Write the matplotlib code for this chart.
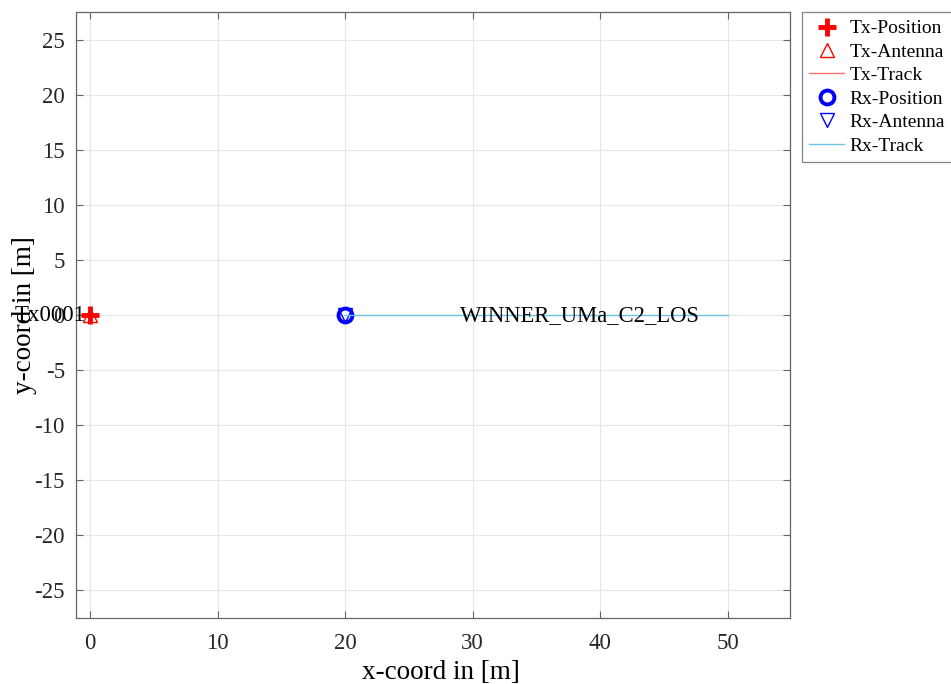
import matplotlib
matplotlib.use('Agg')
import matplotlib.pyplot as plt

plt.rcParams['font.family'] = ['Liberation Serif', 'DejaVu Serif']
plt.rcParams['axes.unicode_minus'] = False

# layout data
tx_pos = [0.0, 0.0]
rx_pos = [20.0, 0.0]
rx_track_x = [20.0, 50.0]
rx_track_y = [0.0, 0.0]
tx_name = 'Tx0001'
segment_name = 'WINNER_UMa_C2_LOS'
segment_label_pos = [29.0, 0.0]

xticks = [0, 10, 20, 30, 40, 50]
yticks = [-25, -20, -15, -10, -5, 0, 5, 10, 15, 20, 25]

fig = plt.figure(figsize=(9.51, 6.84), dpi=100)
ax = fig.add_axes([0.080, 0.0965, 0.751, 0.8855])

ax.plot(tx_pos[0], tx_pos[1], '+', color='red', markersize=13, markeredgewidth=3.5, label='Tx-Position')
ax.plot(tx_pos[0], tx_pos[1], '^', color='red', markerfacecolor='none', markersize=10, label='Tx-Antenna')
ax.plot([tx_pos[0]], [tx_pos[1]], '-', color='#ff7070', linewidth=1.0, label='Tx-Track')
ax.plot(rx_pos[0], rx_pos[1], 'o', color='blue', markerfacecolor='none', markersize=10, markeredgewidth=2.8, label='Rx-Position')
ax.plot(rx_pos[0], rx_pos[1], 'v', color='blue', markerfacecolor='none', markersize=10, label='Rx-Antenna')
ax.plot(rx_track_x, rx_track_y, '-', color='#6cc3e6', linewidth=1.0, label='Rx-Track')

ax.text(tx_pos[0] - 0.4, tx_pos[1], tx_name, fontsize=16.5, ha='right', va='center')
ax.text(segment_label_pos[0], segment_label_pos[1], segment_name, fontsize=16.3, ha='left', va='center')

ax.set_xlim(-1.1, 54.9)
ax.set_ylim(-27.5, 27.5)
ax.set_xticks(xticks)
ax.set_yticks(yticks)
ax.grid(True, color='#e6e6e6', linewidth=0.8)
ax.tick_params(direction='in', labelsize=16.5, colors='#666666', labelcolor='#262626',
               length=5, top=True, right=True, pad=8)
ax.tick_params(axis='x', pad=11)
for s in ax.spines.values():
    s.set_color('#666666')
    s.set_linewidth(0.9)
ax.set_xlabel('x-coord in [m]', fontsize=19.5)
ax.xaxis.set_label_coords(0.511, -0.069)
ax.set_ylabel('y-coord in [m]', fontsize=19.5, labelpad=-2)

leg = ax.legend(loc='upper left', bbox_to_anchor=(0.843, 0.9825), bbox_transform=fig.transFigure,
                fontsize=14, frameon=True, fancybox=False, edgecolor='#666666',
                handlelength=1.8, handletextpad=0.25, labelspacing=0.3, borderpad=0.4, borderaxespad=0)
leg.get_frame().set_linewidth(0.9)

fig.savefig('out.png', dpi=100)
